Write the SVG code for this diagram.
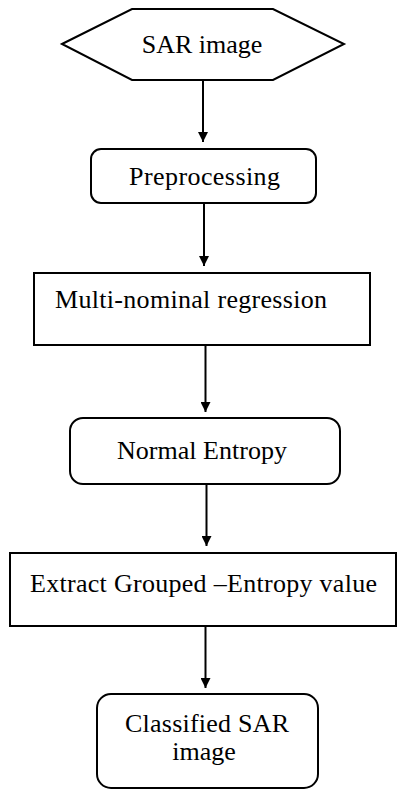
<svg xmlns="http://www.w3.org/2000/svg" width="398" height="791" viewBox="0 0 398 791">
<style>
.shape{fill:#fff;stroke:#000;stroke-width:2}
.lbl{font-family:"Liberation Serif","Times New Roman",serif;font-size:26px;fill:#000}
.conn{stroke:#000;stroke-width:2;fill:none}
</style>
<defs>
<marker id="ah" markerUnits="userSpaceOnUse" markerWidth="10" markerHeight="10" refX="10" refY="5" orient="auto">
<path d="M0,0 L10,5 L0,10 z" fill="#000"/>
</marker>
</defs>
<rect width="398" height="791" fill="#fff"/>
<g id="connectors">
<line class="conn" x1="203" y1="80" x2="203" y2="142" marker-end="url(#ah)"/>
<line class="conn" x1="204" y1="203" x2="204" y2="266" marker-end="url(#ah)"/>
<line class="conn" x1="205.5" y1="345" x2="205.5" y2="412" marker-end="url(#ah)"/>
<line class="conn" x1="206.5" y1="484" x2="206.5" y2="546" marker-end="url(#ah)"/>
<line class="conn" x1="205.5" y1="626" x2="205.5" y2="688" marker-end="url(#ah)"/>
</g>
<g id="n1">
<polygon class="shape" points="62,44 132,9 273,9 344,44 273,80 132,80"/>
<text class="lbl" x="202" y="53" text-anchor="middle">SAR image</text>
</g>
<g id="n2">
<rect class="shape" x="91" y="149" width="225" height="54" rx="10"/>
<text class="lbl" x="129" y="185" textLength="151">Preprocessing</text>
</g>
<g id="n3">
<rect class="shape" x="34" y="273" width="336" height="72"/>
<text class="lbl" x="55" y="308" textLength="272">Multi-nominal  regression</text>
</g>
<g id="n4">
<rect class="shape" x="70" y="418" width="270" height="66" rx="13"/>
<text class="lbl" x="117" y="459" textLength="170">Normal  Entropy</text>
</g>
<g id="n5">
<rect class="shape" x="10" y="553" width="386" height="73"/>
<text class="lbl" x="30" y="592" textLength="347">Extract  Grouped –Entropy value</text>
</g>
<g id="n6">
<rect class="shape" x="97" y="694" width="221" height="94" rx="14"/>
<text class="lbl" x="125" y="732" textLength="164">Classified  SAR</text>
<text class="lbl" x="204" y="760" text-anchor="middle">image</text>
</g>
</svg>
